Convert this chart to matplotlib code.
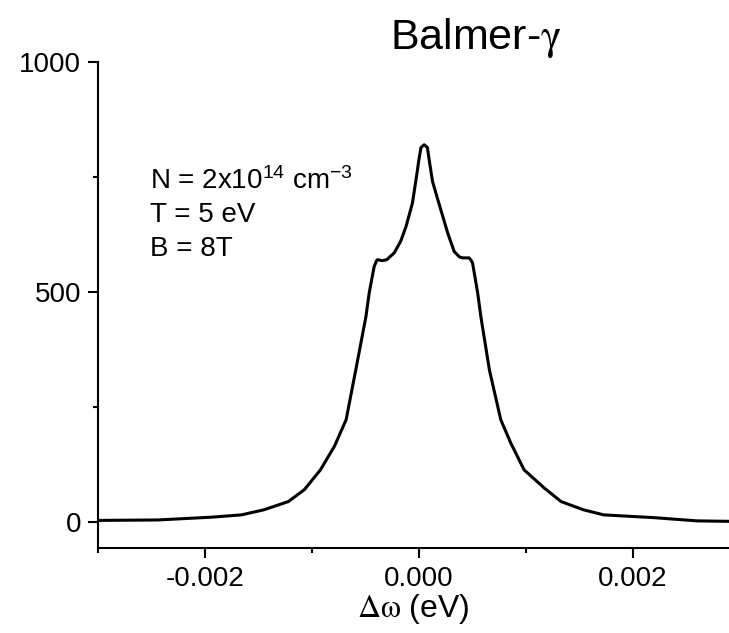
import numpy as np
import matplotlib
matplotlib.use("Agg")
import matplotlib.pyplot as plt
from matplotlib.ticker import MultipleLocator

# ── data (Balmer-gamma profile) ────────────────────────────────────────────────
d_omega = [-0.0030, -0.00244, -0.00194, -0.00166, -0.00145, -0.00122, -0.00107,
           -0.00092, -0.00079, -0.00068, -0.00059, -0.000495, -0.000464,
           -0.000418, -0.000395, -0.000386, -0.00034, -0.00030, -0.00023,
           -0.00017, -0.00012, -0.00006, -0.000013, 0.0, 0.00002, 0.00005,
           0.00008, 0.0000966, 0.000128, 0.000187, 0.00027, 0.00033, 0.00038,
           0.00041, 0.00047, 0.000485, 0.000502, 0.00055, 0.00058, 0.00066,
           0.000766, 0.00086, 0.000984, 0.00117, 0.00133, 0.00154, 0.00173,
           0.0022, 0.0026, 0.0029]
intensity = [3, 4, 10, 15, 26, 44, 70,
             113, 164, 222, 330, 446, 498,
             555, 568, 570, 568, 570, 585,
             610, 642, 693, 765, 787, 814, 820,
             814, 787, 740, 693, 628, 588, 576,
             574, 574, 570, 563, 498, 446, 330,
             222, 171, 113, 74, 44, 26, 15,
             9, 2, 1]

info_lines = [r"N = 2x10$^{14}$ cm$^{-3}$", "T = 5 eV", "B = 8T"]

plt.rcParams['font.family'] = ['Liberation Sans', 'DejaVu Sans']
plt.rcParams['mathtext.fontset'] = 'custom'
plt.rcParams['mathtext.rm'] = 'Liberation Sans'
plt.rcParams['mathtext.it'] = 'Liberation Sans'
plt.rcParams['axes.unicode_minus'] = False

fig = plt.figure(figsize=(7.29, 6.33), dpi=100)
ax = fig.add_axes([98/729, 85/633, 631/729, 486/633])

ax.plot(d_omega, intensity, color='black', linewidth=2.2,
        solid_joinstyle='round')

ax.set_xlim(-0.003, 0.0029)
ax.set_ylim(-57, 1000)
ax.spines['top'].set_visible(False)
ax.spines['right'].set_visible(False)
for sp in ('left', 'bottom'):
    ax.spines[sp].set_linewidth(1.5)

ax.xaxis.set_major_locator(MultipleLocator(0.002))
ax.xaxis.set_minor_locator(MultipleLocator(0.001))
ax.yaxis.set_major_locator(MultipleLocator(500))
ax.yaxis.set_minor_locator(MultipleLocator(250))
ax.xaxis.set_major_formatter(plt.FuncFormatter(lambda v, p: f"{v:.3f}"))
ax.tick_params(which='major', length=7, width=1.5, labelsize=20, direction='out')
ax.tick_params(which='minor', length=3.5, width=1.5, direction='out')
ax.tick_params(axis='y', pad=5)
ax.tick_params(axis='x', pad=6)

ax.set_xlabel(r"$\Delta\mathrm{\omega}$ (eV)", fontsize=23, labelpad=0,
              math_fontfamily='stix')

fig.text(476/729, 1 - 38/633, r"Balmer-$\mathrm{\gamma}$", fontsize=31,
         ha='center', va='center', math_fontfamily='stix')

# parameter text
for i, line in enumerate(info_lines):
    fig.text(150/729, 1 - (181 + 34*i)/633, line, fontsize=20,
             ha='left', va='center')

plt.savefig('out.png', dpi=100)
